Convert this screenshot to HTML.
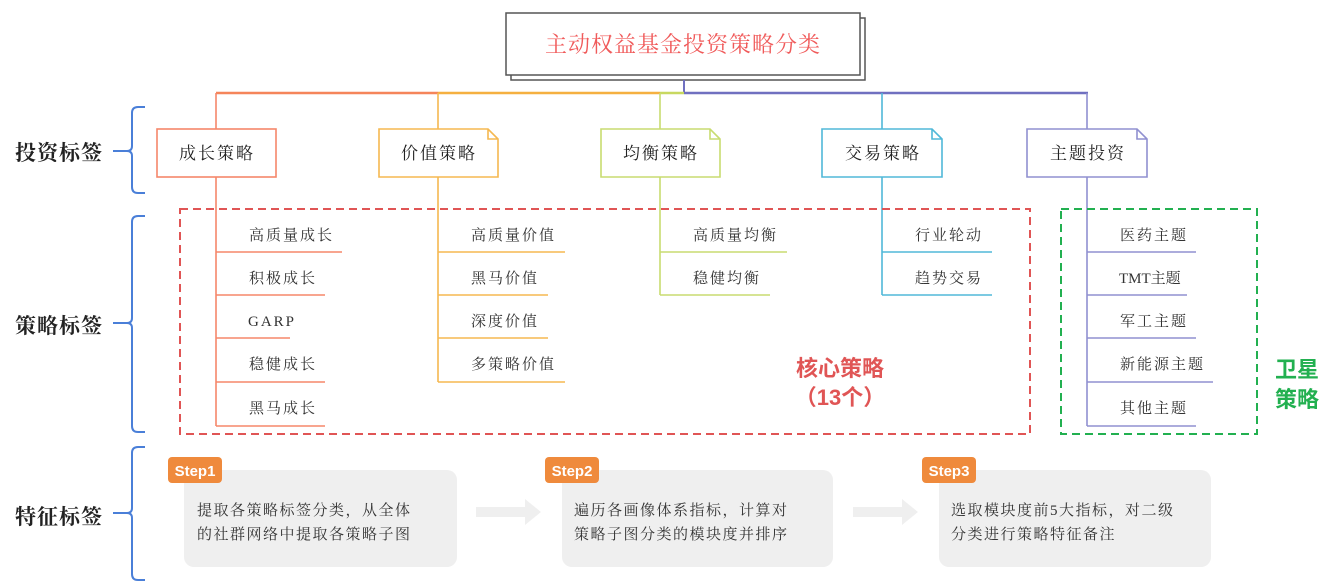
<!DOCTYPE html>
<html><head><meta charset="utf-8"><style>
html,body{margin:0;padding:0;background:#fff;}
svg{display:block;}
text{font-family:"Liberation Serif","Noto Serif CJK SC",serif;}
.s text{font-family:"Liberation Sans","Noto Sans CJK SC",sans-serif;}
</style></head><body>
<svg width="1332" height="585" viewBox="0 0 1332 585" xmlns="http://www.w3.org/2000/svg">
<rect x="511" y="18" width="354" height="62" fill="#fff" stroke="#555" stroke-width="1.5"/>
<rect x="506" y="13" width="354" height="62" fill="#fff" stroke="#555" stroke-width="1.5"/>
<text x="683" y="52" font-size="22" fill="#f05a5a" text-anchor="middle" letter-spacing="1">主动权益基金投资策略分类</text>
<line x1="684" y1="80" x2="684" y2="93" stroke="#7070c0" stroke-width="2"/>
<line x1="216" y1="93" x2="438" y2="93" stroke="#f5855a" stroke-width="2.5"/>
<line x1="438" y1="93" x2="660" y2="93" stroke="#f5b040" stroke-width="2.5"/>
<line x1="660" y1="93" x2="684" y2="93" stroke="#c8d860" stroke-width="2.5"/>
<line x1="684" y1="93" x2="1088" y2="93" stroke="#7070c0" stroke-width="2.5"/>
<g stroke-width="1.6" fill="none">
<line x1="216" y1="93" x2="216" y2="426" stroke="#f5876a"/>
<line x1="438" y1="93" x2="438" y2="382" stroke="#f5b850"/>
<line x1="660" y1="93" x2="660" y2="295" stroke="#c8dc70"/>
<line x1="882" y1="93" x2="882" y2="295" stroke="#50b8d8"/>
<line x1="1087" y1="93" x2="1087" y2="426" stroke="#9090d0"/>
</g>
<g stroke-width="1.6">
<rect x="157" y="129" width="119" height="48" fill="#fff" stroke="#f5876a"/>
<path d="M379 129 H488 L498 139 V177 H379 Z M488 129 V139 H498" fill="#fff" stroke="#f5b850"/>
<path d="M601 129 H710 L720 139 V177 H601 Z M710 129 V139 H720" fill="#fff" stroke="#c8dc70"/>
<path d="M822 129 H932 L942 139 V177 H822 Z M932 129 V139 H942" fill="#fff" stroke="#50b8d8"/>
<path d="M1027 129 H1137 L1147 139 V177 H1027 Z M1137 129 V139 H1147" fill="#fff" stroke="#9090d0"/>
</g>
<g font-size="17" fill="#222" text-anchor="middle" letter-spacing="2">
<text x="217" y="159">成长策略</text>
<text x="439" y="159">价值策略</text>
<text x="661" y="159">均衡策略</text>
<text x="883" y="159">交易策略</text>
<text x="1088" y="159">主题投资</text>
</g>
<g stroke-width="1.5">
<line x1="216" y1="252" x2="342" y2="252" stroke="#f5876a"/>
<line x1="216" y1="295" x2="325" y2="295" stroke="#f5876a"/>
<line x1="216" y1="338" x2="290" y2="338" stroke="#f5876a"/>
<line x1="216" y1="382" x2="325" y2="382" stroke="#f5876a"/>
<line x1="216" y1="426" x2="325" y2="426" stroke="#f5876a"/>
<line x1="438" y1="252" x2="565" y2="252" stroke="#f5b850"/>
<line x1="438" y1="295" x2="548" y2="295" stroke="#f5b850"/>
<line x1="438" y1="338" x2="548" y2="338" stroke="#f5b850"/>
<line x1="438" y1="382" x2="565" y2="382" stroke="#f5b850"/>
<line x1="660" y1="252" x2="787" y2="252" stroke="#c8dc70"/>
<line x1="660" y1="295" x2="770" y2="295" stroke="#c8dc70"/>
<line x1="882" y1="252" x2="992" y2="252" stroke="#50b8d8"/>
<line x1="882" y1="295" x2="992" y2="295" stroke="#50b8d8"/>
<line x1="1087" y1="252" x2="1196" y2="252" stroke="#9090d0"/>
<line x1="1087" y1="295" x2="1187" y2="295" stroke="#9090d0"/>
<line x1="1087" y1="338" x2="1196" y2="338" stroke="#9090d0"/>
<line x1="1087" y1="382" x2="1213" y2="382" stroke="#9090d0"/>
<line x1="1087" y1="426" x2="1196" y2="426" stroke="#9090d0"/>
</g>
<g font-size="15" fill="#333" letter-spacing="2">
<text x="249" y="240">高质量成长</text>
<text x="249" y="283">积极成长</text>
<text x="248" y="326">GARP</text>
<text x="249" y="369">稳健成长</text>
<text x="249" y="413">黑马成长</text>
<text x="471" y="240">高质量价值</text>
<text x="471" y="283">黑马价值</text>
<text x="471" y="326">深度价值</text>
<text x="471" y="369">多策略价值</text>
<text x="693" y="240">高质量均衡</text>
<text x="693" y="283">稳健均衡</text>
<text x="915" y="240">行业轮动</text>
<text x="915" y="283">趋势交易</text>
<text x="1120" y="240">医药主题</text>
<text x="1119" y="283" letter-spacing="0">TMT主题</text>
<text x="1120" y="326">军工主题</text>
<text x="1120" y="369">新能源主题</text>
<text x="1120" y="413">其他主题</text>
</g>
<rect x="180" y="209" width="850" height="225" fill="none" stroke="#e05555" stroke-width="2" stroke-dasharray="8,5"/>
<rect x="1061" y="209" width="196" height="225" fill="none" stroke="#22b050" stroke-width="2" stroke-dasharray="8,5"/>
<g class="s" font-weight="bold" text-anchor="middle">
<text x="840" y="376" font-size="22" fill="#e05555">核心策略</text>
<text x="840" y="405" font-size="22" fill="#e05555">（13个）</text>
<text x="1297" y="377" font-size="22" fill="#22b050">卫星</text>
<text x="1297" y="407" font-size="22" fill="#22b050">策略</text>
</g>
<g font-size="21" fill="#222" font-weight="bold" letter-spacing="1">
<text x="15" y="160">投资标签</text>
<text x="15" y="333">策略标签</text>
<text x="15" y="524">特征标签</text>
</g>
<g fill="none" stroke="#4a7fd8" stroke-width="2">
<path d="M145 107 H138 Q132 107 132 113 V146 Q132 151 127 151 H113 M127 151 Q132 151 132 156 V187 Q132 193 138 193 H145"/>
<path d="M145 216 H138 Q132 216 132 222 V318 Q132 323 127 323 H113 M127 323 Q132 323 132 328 V426 Q132 432 138 432 H145"/>
<path d="M145 447 H138 Q132 447 132 453 V508 Q132 513 127 513 H113 M127 513 Q132 513 132 518 V574 Q132 580 138 580 H145"/>
</g>
<g fill="#efefef">
<rect x="184" y="470" width="273" height="97" rx="10"/>
<rect x="562" y="470" width="271" height="97" rx="10"/>
<rect x="939" y="470" width="272" height="97" rx="10"/>
<path d="M476 507 H525 V499 L541 512 L525 525 V517 H476 Z"/>
<path d="M853 507 H902 V499 L918 512 L902 525 V517 H853 Z"/>
</g>
<g fill="#ef8a3c">
<rect x="168" y="457" width="54" height="26" rx="4"/>
<rect x="545" y="457" width="54" height="26" rx="4"/>
<rect x="922" y="457" width="54" height="26" rx="4"/>
</g>
<g class="s" font-size="15" font-weight="bold" fill="#fff" text-anchor="middle">
<text x="195" y="476">Step1</text>
<text x="572" y="476">Step2</text>
<text x="949" y="476">Step3</text>
</g>
<g font-size="15" fill="#333" letter-spacing="1.5">
<text x="197" y="515">提取各策略标签分类，从全体</text>
<text x="197" y="539">的社群网络中提取各策略子图</text>
<text x="574" y="515">遍历各画像体系指标，计算对</text>
<text x="574" y="539">策略子图分类的模块度并排序</text>
<text x="951" y="515">选取模块度前5大指标，对二级</text>
<text x="951" y="539">分类进行策略特征备注</text>
</g>
</svg>
</body></html>
